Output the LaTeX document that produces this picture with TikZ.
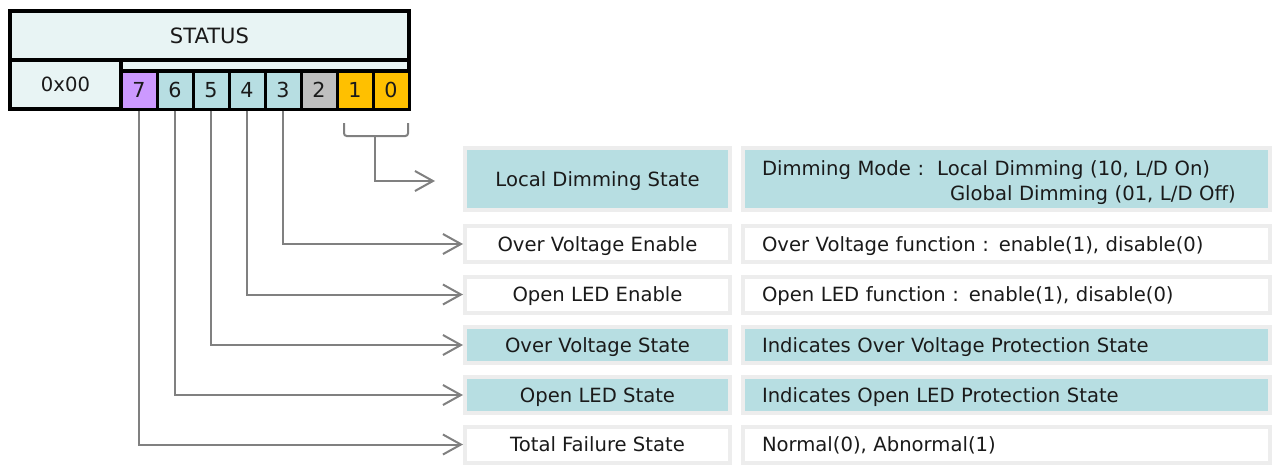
\documentclass[tikz,border=0pt]{standalone}
\usepackage{fontspec}
\setmainfont{DejaVu Sans}
\usetikzlibrary{arrows.meta,positioning}

\definecolor{headfill}{HTML}{E8F4F4}
\definecolor{bitteal}{HTML}{B7DEE2}
\definecolor{bitpurple}{HTML}{CC99FF}
\definecolor{bitgray}{HTML}{BFBFBF}
\definecolor{bitorange}{HTML}{FFC000}
\definecolor{boxline}{HTML}{EDEDED}
\definecolor{connline}{HTML}{808080}
\definecolor{textdark}{HTML}{1A1A1A}

\tikzset{
    regbox/.style={draw=black, line width=3pt, fill=headfill, inner sep=0pt, text depth=0pt},
    bitbox/.style={draw=black, line width=2.25pt, minimum width=27pt, minimum height=28.5pt, inner sep=0pt, text depth=0pt, font=\fontsize{15.5pt}{18pt}\selectfont},
    namebox/.style={draw=boxline, line width=3pt, minimum width=198.75pt, minimum height=27pt, inner sep=0pt, text depth=0pt},
    descbox/.style={draw=boxline, line width=3pt, text width=366.75pt, inner xsep=14.25pt, inner ysep=0pt, minimum height=27pt, align=left, text depth=0pt},
    conn/.style={draw=connline, line width=1.5pt},
    linkarrow/.style={-{Straight Barb[length=13.5pt, width=15pt]}}
}

\begin{document}
\begin{tikzpicture}[x=0.75pt, y=-0.75pt, font=\fontsize{14.7pt}{18.75pt}\selectfont, text=textdark]
    \useasboundingbox (0,0) rectangle (1277,464);

    % Draw the register
    \node[regbox, minimum width=299.25pt, minimum height=36.75pt, font=\fontsize{15.8pt}{18pt}\selectfont] (status) at (209.5,35.5) {STATUS};
    \node[regbox, minimum width=83.25pt, minimum height=36.75pt] (addr) at (65.5,84.5) {0x00};
    \draw[line width=3pt, fill=headfill] (121,60) rectangle (409,71);

    % Draw the bits
    \foreach \b/\col [count=\i from 0] in {7/bitpurple,6/bitteal,5/bitteal,4/bitteal,3/bitteal,2/bitgray,1/bitorange,0/bitorange} {
        \node[bitbox, fill=\col] (b\b) at ({139+36*\i},90) {\b};
    }

    % Name boxes
    \node[namebox, fill=bitteal, minimum height=46.5pt] (n1) at (597.5,179) {Local Dimming State};
    \node[namebox, fill=white] (n2) at (597.5,244) {Over Voltage Enable};
    \node[namebox, fill=white] (n3) at (597.5,294.5) {Open LED Enable};
    \node[namebox, fill=bitteal] (n4) at (597.5,345) {Over Voltage State};
    \node[namebox, fill=bitteal] (n5) at (597.5,395) {Open LED State};
    \node[namebox, fill=white] (n6) at (597.5,444.5) {Total Failure State};

    % Description boxes
    \node[descbox, fill=bitteal, minimum height=46.5pt, text depth=16pt, right=6.75pt of n1] (d1) {Dimming Mode :\ \ Local Dimming (10, L/D On)\\\hspace*{141pt}Global Dimming (01, L/D Off)};
    \node[descbox, fill=white, right=6.75pt of n2] (d2) {Over Voltage function : enable(1), disable(0)};
    \node[descbox, fill=white, right=6.75pt of n3] (d3) {Open LED function : enable(1), disable(0)};
    \node[descbox, fill=bitteal, right=6.75pt of n4] (d4) {Indicates Over Voltage Protection State};
    \node[descbox, fill=bitteal, right=6.75pt of n5] (d5) {Indicates Open LED Protection State};
    \node[descbox, fill=white, right=6.75pt of n6] (d6) {Normal(0), Abnormal(1)};

    % Bits 1 and 0 bracket
    \coordinate (brl) at (344,123);
    \coordinate (brr) at (408,123);
    \coordinate (brm) at (375,136);
    \coordinate (ldtip) at (435,181);
    \draw[conn, rounded corners=2pt] (brl) |- (brr |- brm) -- (brr);
    \draw[conn, linkarrow] (brm) |- (ldtip);

    % Connectors
    \draw[conn, linkarrow] (b3.south) |- (n2.west);
    \draw[conn, linkarrow] (b4.south) |- (n3.west);
    \draw[conn, linkarrow] (b5.south) |- (n4.west);
    \draw[conn, linkarrow] (b6.south) |- (n5.west);
    \draw[conn, linkarrow] (b7.south) |- (n6.west);
\end{tikzpicture}
\end{document}
